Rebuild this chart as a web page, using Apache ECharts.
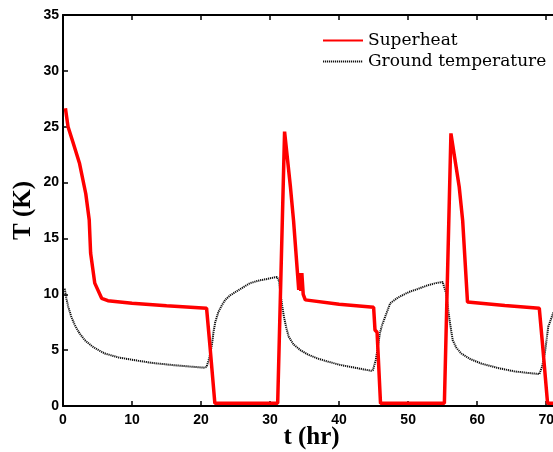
<!DOCTYPE html>
<html>
<head>
<meta charset="utf-8">
<script src="https://cdn.jsdelivr.net/npm/echarts@6/dist/echarts.min.js"></script>
<style>
html,body{margin:0;padding:0;background:#fff;}
#chart{width:553px;height:452px;}
</style>
</head>
<body>
<div id="chart"></div>
<script>
// Superheat (red, solid)
var superheatT = [0.35, 0.73, 1.5, 2.4, 3.3, 3.8, 4.0, 4.6, 5.6, 6.5, 10, 15, 20.8, 21.0, 21.3, 22.0,
  31.1, 32.1, 32.95, 33.4, 34.15, 34.3, 34.45, 34.6, 34.8, 35.1, 40, 45.0, 45.2, 45.5, 46.0,
  55.25, 56.2, 57.4, 57.9, 58.6, 64, 69.0, 69.5, 70.2, 75];
var superheatV = [26.65, 25.0, 23.5, 21.7, 19.0, 16.65, 13.7, 11.0, 9.64, 9.43, 9.2, 8.98, 8.75, 8.75, 5.3, 0.24,
  0.24, 24.56, 19.6, 16.6, 10.4, 11.9, 10.3, 11.9, 10.0, 9.5, 9.1, 8.83, 6.8, 6.6, 0.24,
  0.24, 24.4, 19.6, 16.6, 9.3, 9.0, 8.75, 5.3, 0.24, 0.24];

// Ground temperature (black, dotted)
var groundT = [0.25, 0.5, 0.75, 1.2, 1.7, 2.4, 3.15, 4.2, 5.0, 6.06, 8, 10.9, 13, 15.8, 18, 20.35, 20.8,
  21.1, 21.4, 21.6, 21.8, 22.05, 22.5, 23.0, 23.5, 24.2, 25.5, 27.1, 28.5, 29.6, 30.5, 31.0,
  31.3, 31.5, 31.75, 32.0, 32.35, 32.7, 33.4, 34.4, 35.5, 36.8, 38.5, 40.2, 42.5, 44.6, 44.9,
  45.3, 45.6, 45.9, 46.2, 46.5, 47.4, 48.5, 50.1, 51.5, 52.8, 54, 55.0,
  55.5, 56.0, 56.45, 57.0, 57.7, 59, 60.6, 63, 65.4, 67.5, 69.0, 69.4, 69.8, 70.3, 71.0, 72];
var groundV = [10.5, 9.6, 8.9, 8.0, 7.25, 6.5, 5.9, 5.35, 5.05, 4.7, 4.35, 4.05, 3.85, 3.67, 3.55, 3.43, 3.5,
  4.1, 4.9, 5.6, 6.6, 7.5, 8.4, 9.0, 9.5, 9.9, 10.4, 11.0, 11.25, 11.37, 11.5, 11.55,
  11.2, 10.1, 9.0, 8.0, 7.0, 6.2, 5.5, 5.0, 4.6, 4.27, 3.95, 3.67, 3.4, 3.16, 3.2,
  4.1, 5.2, 6.5, 7.2, 7.7, 9.2, 9.7, 10.2, 10.5, 10.8, 11.0, 11.1,
  10.1, 7.7, 5.9, 5.2, 4.7, 4.2, 3.8, 3.4, 3.1, 2.95, 2.86, 3.5, 4.7, 7.1, 8.3, 9.0];

var xTicks = [0, 10, 20, 30, 40, 50, 60, 70];
var xMax = 72;
var yTicks = [0, 5, 10, 15, 20, 25, 30, 35];

function pairs(a, b) { return a.map(function (v, i) { return [v, b[i]]; }); }

var chart = echarts.init(document.getElementById('chart'), null, {renderer: 'canvas'});
var tickFont = {fontFamily: 'Liberation Sans', fontWeight: 'bold', fontSize: 14, color: '#000'};
var axisLine = {show: true, lineStyle: {color: '#000', width: 2}};
var tickStyle = {show: true, inside: true, length: 5, lineStyle: {color: '#000', width: 1.5}};
chart.setOption({
  animation: false,
  backgroundColor: '#fff',
  grid: {left: 63, top: 15, width: 497, height: 391, containLabel: false, outerBoundsMode: 'none'},
  legend: {
    orient: 'vertical', left: 317, top: 27, itemWidth: 40, itemHeight: 14, itemGap: 4,
    itemStyle: {opacity: 0},
    textStyle: {fontFamily: 'DejaVu Serif', fontSize: 17, color: '#000'},
    data: ['Superheat', 'Ground temperature']
  },
  xAxis: [{
    type: 'value', min: xTicks[0], max: xMax, interval: 10,
    name: 't (hr)', nameLocation: 'middle', nameGap: 19, nameMoveOverlap: false,
    nameTextStyle: {fontFamily: 'Liberation Serif', fontWeight: 'bold', fontSize: 25, color: '#000'},
    axisLine: axisLine, axisTick: tickStyle,
    axisLabel: Object.assign({margin: 7, showMaxLabel: false}, tickFont),
    splitLine: {show: false}
  }, {
    type: 'value', position: 'top', min: xTicks[0], max: xMax, interval: 10,
    axisLine: axisLine, axisTick: tickStyle,
    axisLabel: {show: false}, splitLine: {show: false}
  }],
  yAxis: [{
    type: 'value', min: yTicks[0], max: yTicks[yTicks.length - 1], interval: 5,
    name: 'T (K)', nameLocation: 'middle', nameGap: 27, nameMoveOverlap: false,
    nameTextStyle: {fontFamily: 'Liberation Serif', fontWeight: 'bold', fontSize: 25, color: '#000'},
    axisLine: axisLine, axisTick: tickStyle,
    axisLabel: Object.assign({margin: 4}, tickFont),
    splitLine: {show: false}
  }],
  series: [{
    name: 'Superheat', type: 'line', symbol: 'none', data: pairs(superheatT, superheatV),
    lineStyle: {color: '#ff0000', width: 3.5}, itemStyle: {color: '#ff0000'}, z: 3
  }, {
    name: 'Ground temperature', type: 'line', symbol: 'none', data: pairs(groundT, groundV),
    lineStyle: {color: '#111', width: 2, type: [1.2, 0.8]}, itemStyle: {color: '#111'}, z: 2
  }]
});
</script>
</body>
</html>
